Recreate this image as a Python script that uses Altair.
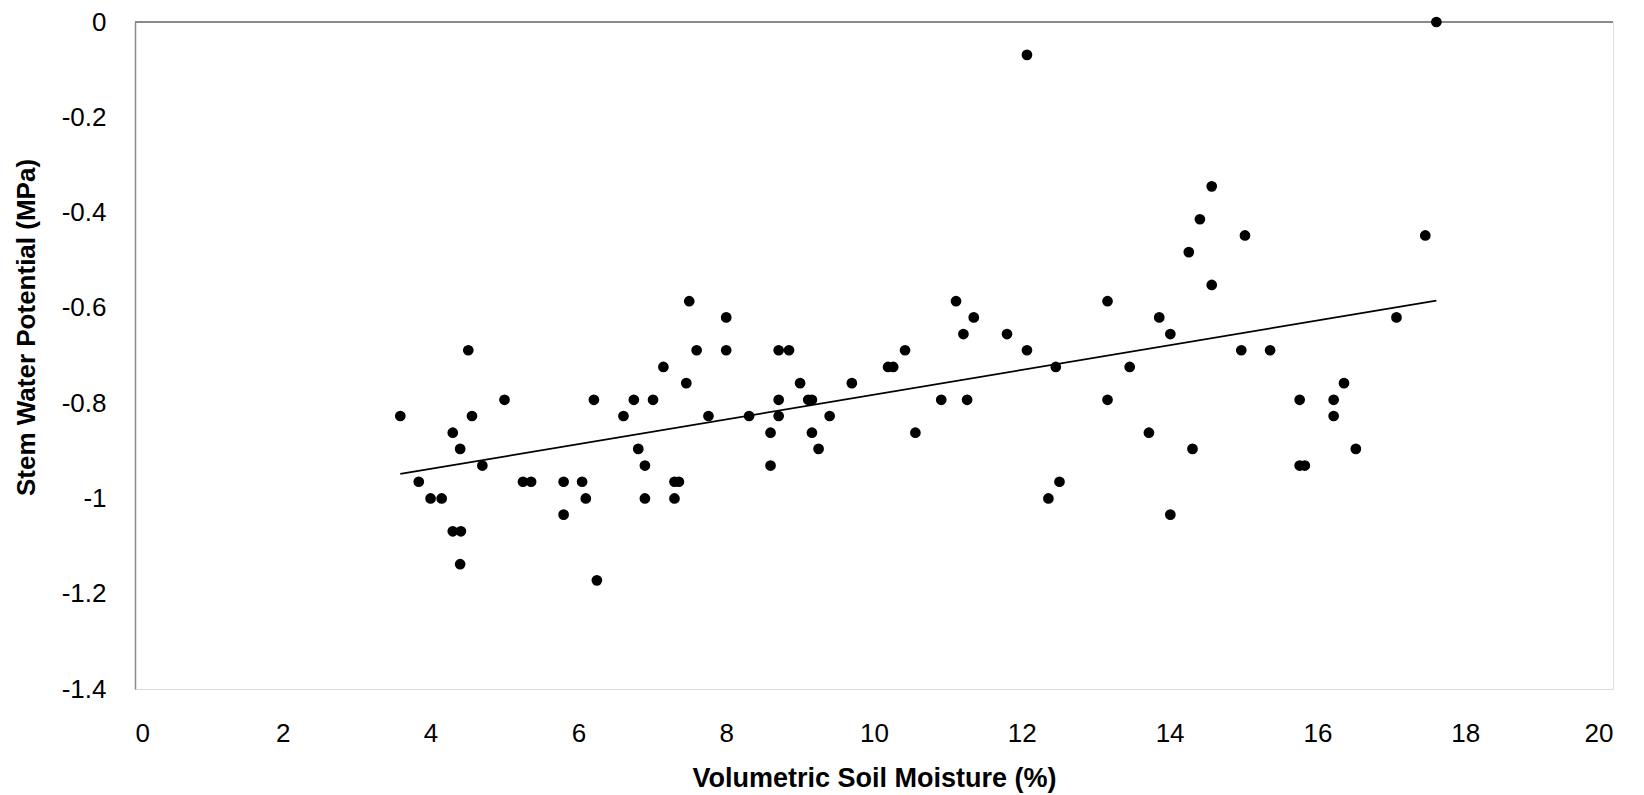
import altair as alt
import pandas as pd

# Volumetric soil moisture (%)
soil_moisture = [
    3.59, 3.84, 4.00, 4.15, 4.30, 4.40, 4.30, 4.41, 4.40, 4.51, 4.56, 4.70,
    5.00, 5.25, 5.36, 5.80, 5.80, 6.05, 6.10, 6.21, 6.25, 6.61, 6.75, 6.81,
    6.90, 6.90, 7.01, 7.15, 7.30, 7.36, 7.30, 7.46, 7.50, 7.60, 7.76,
    8.00, 8.00, 8.31, 8.71, 8.85, 8.71, 8.71, 8.60, 8.60, 9.00, 9.11, 9.16,
    9.16, 9.25, 9.40, 9.70, 10.19, 10.26, 10.42, 10.56, 10.91, 11.11, 11.21,
    11.26, 11.35, 11.80,
    12.07, 12.07, 12.36, 12.46, 12.51, 13.16, 13.16, 13.46, 13.72, 13.86,
    14.01, 14.01, 14.26, 14.31, 14.41, 14.57, 14.57, 14.97, 15.02, 15.36,
    15.76, 15.76, 15.83, 16.22, 16.22, 16.36, 16.52, 17.07, 17.46, 17.61,
]

# Stem water potential (MPa)
stem_potential = [
    -0.827, -0.965, -1.000, -1.000, -0.862, -0.896, -1.069, -1.069, -1.138,
    -0.689, -0.827, -0.931, -0.793, -0.965, -0.965, -0.965, -1.034, -0.965,
    -1.000, -0.793, -1.172, -0.827, -0.793, -0.896, -0.931, -1.000, -0.793,
    -0.724, -0.965, -0.965, -1.000, -0.758, -0.586, -0.689, -0.827,
    -0.620, -0.689, -0.827, -0.689, -0.689, -0.793, -0.827, -0.862, -0.931,
    -0.758, -0.793, -0.793, -0.862, -0.896, -0.827, -0.758, -0.724, -0.724,
    -0.689, -0.862, -0.793, -0.586, -0.655, -0.793, -0.620, -0.655,
    -0.069, -0.689, -1.000, -0.724, -0.965, -0.586, -0.793, -0.724, -0.862,
    -0.620, -0.655, -1.034, -0.483, -0.896, -0.414, -0.345, -0.552, -0.689,
    -0.448, -0.689, -0.793, -0.931, -0.931, -0.793, -0.827, -0.758, -0.896,
    -0.620, -0.448, 0.000,
]

x_ticks = [0, 2, 4, 6, 8, 10, 12, 14, 16, 18, 20]
y_ticks = [0, -0.2, -0.4, -0.6, -0.8, -1.0, -1.2, -1.4]

df = pd.DataFrame({"x": soil_moisture, "y": stem_potential})

FONT = "Liberation Sans"

x_enc = alt.X(
    "x:Q",
    scale=alt.Scale(domain=[0, 20], nice=False, zero=False),
    axis=alt.Axis(
        values=x_ticks,
        labelExpr="toString(round(datum.value))",
        title="Volumetric Soil Moisture (%)",
        domain=False, ticks=False, grid=False,
        labelFont=FONT, labelFontSize=26, labelColor="#000000",
        labelPadding=31,
        titleFont=FONT, titleFontSize=27, titleFontWeight="bold",
        titleColor="#000000", titleBaseline="alphabetic", titleY=97,
    ),
)
y_enc = alt.Y(
    "y:Q",
    scale=alt.Scale(domain=[-1.4, 0], nice=False, zero=False),
    axis=alt.Axis(
        values=y_ticks,
        labelExpr="toString(round(datum.value*10)/10)",
        title="Stem Water Potential (MPa)",
        domain=True, domainColor="#8a8a8a", domainWidth=1.5,
        ticks=False, grid=False,
        labelFont=FONT, labelFontSize=26, labelColor="#000000",
        labelPadding=29,
        titleFont=FONT, titleFontSize=26, titleFontWeight="bold",
        titleColor="#000000", titleAngle=270, titleAlign="center",
        titleBaseline="alphabetic", titleX=-101, titleY=305,
    ),
)

base = alt.Chart(df)

top_rule = base.mark_rule(color="#8a8a8a", strokeWidth=1.5).encode(
    y=alt.datum(0)
)
points = base.mark_circle(size=115, color="#000000", opacity=1).encode(
    x=x_enc, y=y_enc
)
trend = base.transform_regression("x", "y").mark_line(
    color="#000000", strokeWidth=1.8
).encode(x="x:Q", y="y:Q")

chart = alt.layer(top_rule, points, trend).properties(
    width=1478,
    height=667,
    padding={"left": 127, "top": 14, "right": 20, "bottom": 105},
    autosize=alt.AutoSizeParams(type="none"),
).configure_view(stroke=None).configure(background="#ffffff")

chart.save("out.html", embed_options={"renderer": "svg", "actions": False})
